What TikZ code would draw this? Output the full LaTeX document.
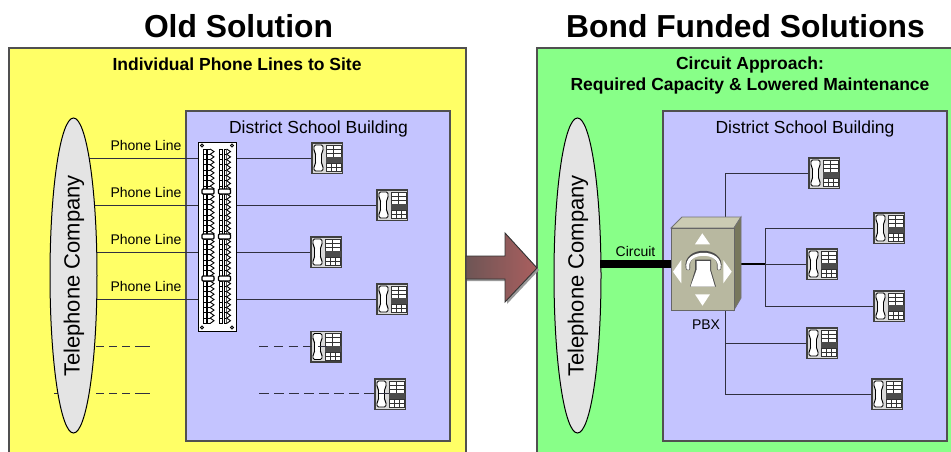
\documentclass[tikz,border=0pt]{standalone}
\usepackage{fontspec}
\setmainfont{Liberation Sans}
\newcommand{\fs}[1]{\fontsize{#1}{#1}\selectfont}
\definecolor{boxedge}{HTML}{505050}
\definecolor{wire}{HTML}{303040}
\definecolor{yel}{HTML}{FFFF66}
\definecolor{grn}{HTML}{88FF88}
\definecolor{blu}{HTML}{C4C4FF}
\definecolor{ell}{HTML}{E4E4E4}
\definecolor{arrowL}{HTML}{6E5555}
\definecolor{arrowR}{HTML}{AA5F5F}
\definecolor{pbxtop}{HTML}{CBCBB3}
\definecolor{pbxfront}{HTML}{B8B8A0}
\definecolor{pbxside}{HTML}{77775C}
\tikzset{
  x=1pt,y=-1pt,
  region/.style={draw=boxedge,line width=1.4pt},
  wireline/.style={draw=wire,line width=1pt},
  dashA/.style={wireline,dash pattern=on 8pt off 5pt on 8pt off 5pt on 8pt off 5pt on 15pt off 5pt},
  telco/.style={draw=black,line width=1pt,fill=ell,ellipse,inner sep=0pt,minimum width=47pt,minimum height=315pt},
  phonebox/.style={draw=none,inner sep=0pt,minimum size=32pt},
  plabel/.style={font=\fs{14},inner sep=0pt},
  hlabel/.style={font=\fs{17.5}\bfseries,inner sep=0pt},
  blabel/.style={font=\fs{17.5},inner sep=0pt},
  title/.style={font=\fs{31.8}\bfseries,inner sep=0pt},
  tellabel/.style={font=\fs{22},rotate=90,inner sep=0pt},
  phone/.pic={
    \fill[black!75] (-16,-16) rectangle (16,16);
    \fill[white!85!black] (-14.5,-14.5) rectangle (14.5,14.5);
    \draw[black,line width=.8pt,fill=white,rounded corners=1.5pt]
      (-13,-13) -- (-4,-13) -- (-4,-7) -- (-5.5,-5) -- (-5.5,6) -- (-4,8) -- (-4,13)
      -- (-13,13) -- (-13,8) -- (-11.5,6) -- (-11.5,-5) -- (-13,-7) -- cycle;
    \foreach \cx in {-1,6.5}{
      \foreach \cy in {-13,-8.8,-4.6}{
        \draw[black!80,line width=.75pt,fill=white] (\cx,\cy) rectangle +(7.5,4.2);
      }
    }
    \fill[black!70] (-1.5,-1) rectangle (14.5,5);
    \foreach \cx in {-1,4,9}{
      \foreach \cy in {5.5,9.5}{
        \draw[black!80,line width=.75pt,fill=white] (\cx,\cy) rectangle +(5,4);
      }
    }
  },
  punchcol/.pic={
    \foreach \s in {7,52,97,139}{
      \foreach \i in {0,...,7}{
        \draw[black,line width=1pt,fill=white] (0,\s+\i*5.3) rectangle +(3.2,5.3);
        \draw[black,line width=1pt,fill=white] (4.6,\s+\i*5.3) rectangle +(2.6,5.3);
        \draw[black,line width=.9pt,fill=white] (7.2,\s+\i*5.3) -- (11,\s+2.6+\i*5.3) -- (7.2,\s+5.3+\i*5.3);
      }
    }
    \foreach \s in {50,95,137}{
      \draw[black,line width=1.3pt,fill=white,rounded corners=1pt] (-1,\s-3) rectangle (11,\s+2);
    }
  },
}
\usetikzlibrary{shapes.geometric}
\begin{document}
\begin{tikzpicture}
\useasboundingbox (0,0) rectangle (951,451);
\fill[white] (0,0) rectangle (951,451);

% regions
\node[title] (t1) at (238.5,26) {Old Solution};
\node[title] (t2) at (745.5,26) {Bond Funded Solutions};
\draw[region,fill=yel] (9,48) rectangle (466,460);
\draw[region,fill=grn] (537,48) rectangle (960,460);
\node[hlabel] (h1) at (237,64.5) {Individual Phone Lines to Site};
\node[hlabel] (h2a) at (750,65) {Circuit Approach:};
\node[hlabel] (h2b) at (750,86) {Required Capacity \& Lowered Maintenance};
\draw[region,fill=blu] (186,111) rectangle (450,441);
\draw[region,fill=blu] (663,111) rectangle (947,441);
\node[blabel] (b1) at (318.5,128.5) {District School Building};
\node[blabel] (b2) at (805,128.5) {District School Building};

% arrow
\fill[black!40] (467,258) -- (507,258) -- (507,235) -- (539,270) -- (507,304) -- (507,281) -- (467,281) -- cycle;
\draw[draw=black!80,line width=.9pt,left color=arrowL,right color=arrowR]
  (466,256) -- (505,256) -- (505,233) -- (537,268) -- (505,302) -- (505,279) -- (466,279) -- cycle;

% left: nodes
\node[phonebox] (l1) at (327,158) {};
\node[phonebox] (l2) at (392,205) {};
\node[phonebox] (l3) at (326,252) {};
\node[phonebox] (l4) at (392,299) {};
\node[phonebox] (l5) at (326,346.5) {};
\node[phonebox] (l6) at (390,394) {};
\node[draw=black,line width=1pt,fill=white,inner sep=0pt,minimum width=38pt,minimum height=189pt] (panel) at (217,236.5) {};
\foreach \n/\y in {1/158,2/205,3/252,4/299}{
  \coordinate (a\n) at (80,\y);
  \draw[wireline] (a\n) -- (panel.west |- a\n);
  \draw[wireline] (panel.east |- a\n) -- (l\n.west);
}
\coordinate (d5a) at (96,346.5); \coordinate (d5b) at (150,346.5);
\coordinate (d6a) at (96,393.5); \coordinate (d6b) at (150,393.5); \coordinate (d6c) at (54,393.5); \coordinate (d6d) at (60,393.5);
\draw[dashA] (d5a) -- (d5b);
\draw[dashA] (d6a) -- (d6b);
\draw[wireline] (d6c) -- (d6d);
\node[telco] (tel1) at (73.5,275.5) {};
\node[tellabel] (tl1) at (74,276) {Telephone Company};
\foreach \y/\t in {145/a,192/b,239/c,286/d}{
  \node[plabel] (pl\t) at (146,\y) {Phone Line};
}
\pic at (panel.center) [shift={(-14,-94.5)}] {punchcol};
\pic at (panel.center) [shift={(2.5,-94.5)}] {punchcol};
\foreach \sx/\sy in {-15/-91,15/-91,-15/91,15/91}{
  \draw[black,line width=.8pt,fill=black!40] ([shift={(\sx,\sy)}]panel.center) circle (1.6pt);
}
\foreach \n in {1,...,6}{ \pic at (l\n) {phone}; }
\coordinate (e5) at (259,346.5); \coordinate (f5) at (327,346.5);
\coordinate (e6) at (259,393.5); \coordinate (f6) at (389,393.5);
\draw[wireline,dash pattern=on 9pt off 5.8pt] (e5) -- (f5);
\draw[wireline,dash pattern=on 10pt off 5pt] (e6) -- (f6);

% right: nodes
\node[phonebox] (r1) at (824,173) {};
\node[phonebox] (r2) at (889,228) {};
\node[phonebox] (r3) at (822,264) {};
\node[phonebox] (r4) at (889,306) {};
\node[phonebox] (r5) at (822,343) {};
\node[phonebox] (r6) at (887,394) {};
\node[inner sep=0pt,minimum width=63pt,minimum height=82pt] (pbx) at (702.5,269) {};
\coordinate (j1) at (765,264);
\draw[wireline] (725,230) |- (r1.west);
\draw[wireline] (725,305) |- (r5.west);
\draw[wireline] (725,305) |- (r6.west);
\draw[black,line width=1.4pt] (pbx.east |- j1) -- (j1);
\draw[wireline] (j1) -- (r3.west);
\draw[wireline] (j1) |- (r2.west);
\draw[wireline] (j1) |- (r4.west);
\foreach \n in {1,...,6}{ \pic at (r\n) {phone}; }
\node[telco] (tel2) at (577.5,275.5) {};
\node[tellabel] (tl2) at (578,276) {Telephone Company};
\coordinate (c0) at (600,264);
\draw[black,line width=8pt] (c0) -- (pbx.west |- c0);
\node[plabel] (cl) at (635.5,251.5) {Circuit};
\node[plabel] (pl) at (706,325) {PBX};
% PBX drawing
\draw[draw=black!55,line width=.8pt,fill=pbxtop]
  (671,228) -- (682,217) -- (741,217) -- (734,228) -- cycle;
\draw[draw=black!55,line width=.8pt,fill=pbxside]
  (734,228) -- (741,217) -- (741,298) -- (734,310) -- cycle;
\draw[draw=black!60,line width=.8pt,fill=pbxfront] (671,228) rectangle (734,310);
\fill[white] (702.3,233.3) -- (710,244.3) -- (695,244.3) -- cycle;
\fill[white] (702.5,305.7) -- (710,294.3) -- (695,294.3) -- cycle;
\fill[white] (673,271.7) -- (681.3,260) -- (681.3,283.3) -- cycle;
\fill[white] (731.7,271.7) -- (723.3,260) -- (723.3,283.3) -- cycle;
\draw[black!70,line width=4.5pt,line cap=round] (688,268) .. controls (684,248) and (723,248) .. (719,268);
\draw[white,line width=3pt,line cap=round] (688,268.5) .. controls (684,249.5) and (723,249.5) .. (719,268.5);
\fill[black!70] (695,259.5) -- (711,259.5) -- (711,270) -- (716,286.7) -- (690,286.7) -- (695,270) -- cycle;
\fill[white] (696.5,261) -- (710,261) -- (710,270) -- (715,286.7) -- (690.5,286.7) -- (696.5,270) -- cycle;
\end{tikzpicture}
\end{document}
